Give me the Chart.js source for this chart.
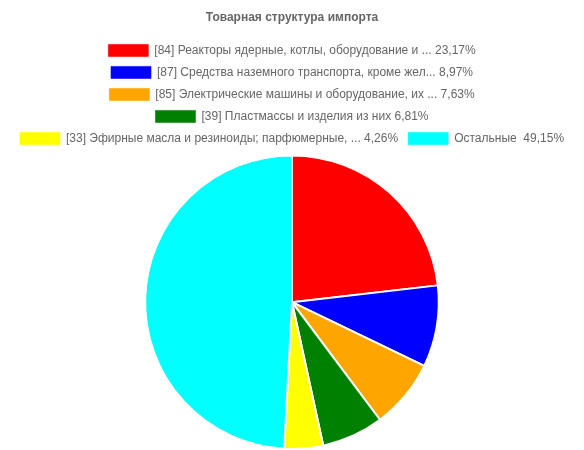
<!DOCTYPE html>
<html>
<head>
<meta charset="utf-8">
<script src="https://cdn.jsdelivr.net/npm/chart.js@4"></script>
<style>
html,body{margin:0;padding:0;background:#fff;}
#wrap{width:584px;height:450px;}
</style>
</head>
<body>
<div id="wrap"><canvas id="c" width="584" height="450"></canvas></div>
<script>
const categories = [
  "[84] Реакторы ядерные, котлы, оборудование и ... 23,17%",
  "[87] Средства наземного транспорта, кроме жел... 8,97%",
  "[85] Электрические машины и оборудование, их ... 7,63%",
  "[39] Пластмассы и изделия из них 6,81%",
  "[33] Эфирные масла и резиноиды; парфюмерные, ... 4,26%",
  "Остальные  49,15%"
];
const values = [23.17, 8.97, 7.63, 6.81, 4.26, 49.15];
const colors = ["#ff0000", "#0000ff", "#ffa500", "#008000", "#ffff00", "#00ffff"];

Chart.defaults.font.family = "Arial, 'Liberation Sans', sans-serif";
Chart.defaults.font.size = 12;
Chart.defaults.color = "#666";

new Chart(document.getElementById('c'), {
  type: 'pie',
  data: {
    labels: categories,
    datasets: [{
      data: values,
      backgroundColor: colors,
      borderColor: '#fff',
      borderWidth: 2
    }]
  },
  options: {
    responsive: false,
    animation: false,
    layout: { padding: 0 },
    plugins: {
      title: {
        display: true,
        text: 'Товарная структура импорта',
        font: { size: 12, weight: 'bold' },
        color: '#666',
        padding: { top: 10, bottom: 10 }
      },
      legend: {
        position: 'top',
        labels: {
          boxWidth: 40,
          color: '#666',
          generateLabels: (chart) => {
            const items = Chart.overrides.pie.plugins.legend.labels.generateLabels(chart);
            items.forEach((it, i) => { it.lineWidth = 1; it.strokeStyle = colors[i] + '99'; });
            return items;
          }
        }
      },
      tooltip: { enabled: false }
    }
  }
});
</script>
</body>
</html>
